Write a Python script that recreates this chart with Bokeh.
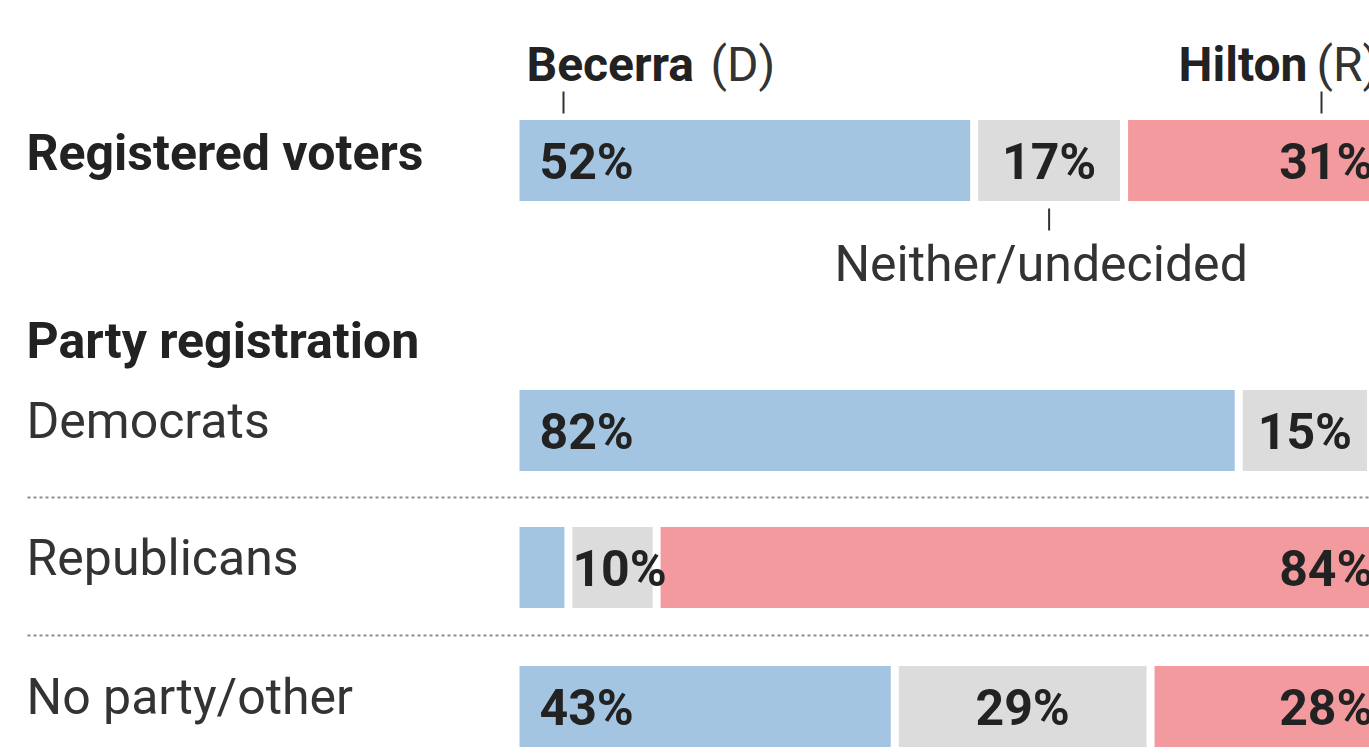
from bokeh.plotting import figure
from bokeh.models import Range1d
from bokeh.core.properties import value
from bokeh.embed import file_html
from bokeh.resources import INLINE

# ---- data ----
rows = ["Registered voters", "Democrats", "Republicans", "No party/other"]
becerra = [52, 82, 6, 43]
neither = [17, 15, 10, 29]
hilton = [31, 3, 84, 28]
candidates = ["Becerra", "Hilton"]
parties = ["(D)", "(R)"]
section_title = "Party registration"
neither_label = "Neither/undecided"

# ---- layout / style ----
W, H = 1369, 756
PAGE_X0, PAGE_Y0 = 0, 0
BAR_X0 = 519.0        # px of 0 %
PX_PER_PCT = 8.82     # px per percentage point
GAP = 8 / PX_PER_PCT  # white gap between segments (in %)
ROW_Y = [160, 430, 567, 706]  # px centres of bar rows
BAR_H = 81
BLUE, GREY, RED = "#a4c5e2", "#dcdcdc", "#f39a9e"
TXT = "#222222"
FONT = value("Roboto")


def px(p):
    return (p - BAR_X0) / PX_PER_PCT


def by(base, size):
    # empirical correction for alphabetic baseline in svg output
    return base - 0.36 * size


p = figure(width=W, height=H, output_backend="svg", toolbar_location=None,
           x_range=Range1d(px(PAGE_X0), px(PAGE_X0 + W)),
           y_range=Range1d(PAGE_Y0 + H, PAGE_Y0),
           min_border=0, min_border_left=0, min_border_right=0,
           min_border_top=0, min_border_bottom=0)
p.axis.visible = False
p.grid.visible = False
p.outline_line_color = None
p.background_fill_color = "white"
p.border_fill_color = "white"

# ---- bars ----
lefts_b = [0] * len(rows)
rights_b = [b - GAP for b in becerra]
lefts_n = list(becerra)
rights_n = [b + n - GAP for b, n in zip(becerra, neither)]
lefts_h = [b + n for b, n in zip(becerra, neither)]
rights_h = [b + n + h - GAP for b, n, h in zip(becerra, neither, hilton)]

for l, r, c in ((lefts_b, rights_b, BLUE), (lefts_n, rights_n, GREY), (lefts_h, rights_h, RED)):
    p.hbar(y=ROW_Y, height=BAR_H, left=l, right=r, fill_color=c, line_color=None)

# ---- percentage labels ----
PS = 50
PCT_SIZE = f"{PS}px"
BASE_OFF = 19
bx, byy, bt = [], [], []
for i, v in enumerate(becerra):
    if v >= 10:
        bx.append(px(BAR_X0 + 20)); byy.append(by(ROW_Y[i] + BASE_OFF, PS)); bt.append(f"{v}%")
p.text(x=bx, y=byy, text=bt, text_align="left", text_baseline="alphabetic",
       text_font=FONT, text_font_style="bold", text_font_size=PCT_SIZE, text_color=TXT)

ncx, ncy, nct, nlx, nly, nlt = [], [], [], [], [], []
for i, v in enumerate(neither):
    if v >= 12:
        ncx.append((lefts_n[i] + rights_n[i]) / 2); ncy.append(by(ROW_Y[i] + BASE_OFF, PS)); nct.append(f"{v}%")
    else:
        nlx.append(lefts_n[i]); nly.append(by(ROW_Y[i] + BASE_OFF, PS)); nlt.append(f"{v}%")
p.text(x=ncx, y=ncy, text=nct, text_align="center", text_baseline="alphabetic",
       text_font=FONT, text_font_style="bold", text_font_size=PCT_SIZE, text_color=TXT)
p.text(x=nlx, y=nly, text=nlt, text_align="left", text_baseline="alphabetic",
       text_font=FONT, text_font_style="bold", text_font_size=PCT_SIZE, text_color=TXT)

hx, hy, ht = [], [], []
for i, v in enumerate(hilton):
    if v >= 10:
        hx.append(rights_h[i] - 20 / PX_PER_PCT); hy.append(by(ROW_Y[i] + BASE_OFF, PS)); ht.append(f"{v}%")
p.text(x=hx, y=hy, text=ht, text_align="right", text_baseline="alphabetic",
       text_font=FONT, text_font_style="bold", text_font_size=PCT_SIZE, text_color=TXT)

# ---- row labels ----
LS = 50
LBL_SIZE = f"{LS}px"
p.text(x=[px(26)], y=[by(ROW_Y[0] + 10, LS)], text=[rows[0]], text_align="left",
       text_baseline="alphabetic", text_font=FONT, text_font_style="bold",
       text_font_size=LBL_SIZE, text_color=TXT)
p.text(x=[px(26)], y=[by(358, LS)], text=[section_title], text_align="left",
       text_baseline="alphabetic", text_font=FONT, text_font_style="bold",
       text_font_size=LBL_SIZE, text_color=TXT)
p.text(x=[px(26)] * 3, y=[by(y + 8, LS) for y in ROW_Y[1:]], text=rows[1:], text_align="left",
       text_baseline="alphabetic", text_font=FONT, text_font_style="normal",
       text_font_size=LBL_SIZE, text_color="#333333")

# dotted separators
for yy in (497, 635):
    p.segment(x0=[px(27)], x1=[px(PAGE_X0 + W)], y0=[yy], y1=[yy],
              line_color="#8c8c8c", line_width=2, line_dash="3 3")

# ---- header labels ----
HS = 48
HDR = f"{HS}px"
HB = 81
p.text(x=[px(526)], y=[by(HB, HS)], text=[candidates[0]], text_align="left", text_baseline="alphabetic",
       text_font=FONT, text_font_style="bold", text_font_size=HDR, text_color=TXT)
p.text(x=[px(710)], y=[by(HB, HS)], text=[parties[0]], text_align="left", text_baseline="alphabetic",
       text_font=FONT, text_font_style="normal", text_font_size=HDR, text_color="#333333")
p.text(x=[px(1307)], y=[by(HB, HS)], text=[candidates[1]], text_align="right", text_baseline="alphabetic",
       text_font=FONT, text_font_style="bold", text_font_size=HDR, text_color=TXT)
p.text(x=[px(1316)], y=[by(HB, HS)], text=[parties[1]], text_align="left", text_baseline="alphabetic",
       text_font=FONT, text_font_style="normal", text_font_size=HDR, text_color="#333333")

# leader ticks
tick_x = [px(563), px(1321), (lefts_n[0] + rights_n[0]) / 2]
p.segment(x0=tick_x, x1=tick_x, y0=[91, 91, 208], y1=[113, 113, 230],
          line_color="#333333", line_width=2)

NS = 50
p.text(x=[(lefts_n[0] + rights_n[0]) / 2 - 8 / PX_PER_PCT], y=[by(281, NS)], text=[neither_label],
       text_align="center", text_baseline="alphabetic", text_font=FONT,
       text_font_style="normal", text_font_size=f"{NS}px", text_color="#333333")

open("out.html", "w").write(file_html(p, INLINE))
